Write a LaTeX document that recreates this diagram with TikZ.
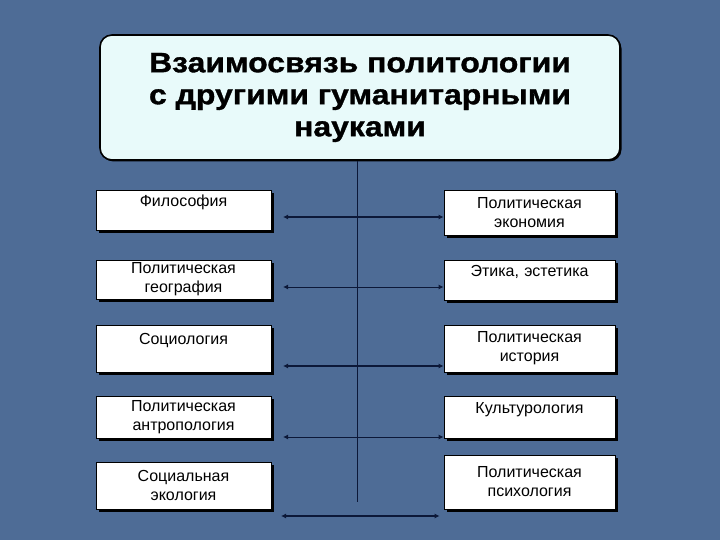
\documentclass[tikz,border=0pt]{standalone}
\usepackage{fontspec}
\setmainfont{Liberation Sans}
\newfontfamily\titlefont{Liberation Sans}[FakeStretch=1.14,BoldFeatures={FakeBold=1.2}]
\usepackage{tikz}
\usetikzlibrary{arrows.meta}
\usetikzlibrary{shadows}
\usepackage{xcolor}
\definecolor{slide}{RGB}{78,108,150}
\definecolor{titlefill}{RGB}{232,250,250}
\definecolor{navy}{RGB}{12,24,56}

\begin{document}
\begin{tikzpicture}[x=1pt,y=-1pt,
  box/.style={draw=black,line width=0.8pt,fill=white,align=center,inner sep=0pt,
    font=\fontsize{16}{19}\selectfont,
    drop shadow={shadow xshift=3pt,shadow yshift=-3pt,fill=black,opacity=1}},
  lbox/.style={box,minimum width=175pt,text width=170pt},
  rbox/.style={box,minimum width=171pt,text width=166pt},
  link/.style={draw=navy,{Latex[length=5pt,width=5pt]}-{Latex[length=5pt,width=5pt]}}]
  \fill[slide] (0,0) rectangle (720,540);
  \node[draw=black,line width=1.6pt,fill=titlefill,rounded corners=12pt,minimum width=520pt,minimum height=125pt,
        align=center,font=\titlefont\bfseries\fontsize{28}{32}\selectfont,
        drop shadow={shadow xshift=1.5pt,shadow yshift=-1.5pt,fill=black,opacity=1}]
        (title) at (360,97.5) {Взаимосвязь политологии\\с другими гуманитарными\\науками};

 \node[lbox,minimum height=40pt] (l1) at (183.5,210) {Философия\\~};
 \node[lbox,minimum height=39pt] (l2) at (183.5,279.5) {Политическая\\география};
 \node[lbox,minimum height=47pt] (l3) at (183.5,348.5) {Социология\\~};
 \node[lbox,minimum height=42pt] (l4) at (183.5,417) {Политическая\\антропология};
 \node[lbox,minimum height=47pt] (l5) at (183.5,485.5) {Социальная\\экология};

 \node[rbox,minimum height=45pt] (r1) at (529.5,212.5) {Политическая\\экономия};
 \node[rbox,minimum height=40pt] (r2) at (529.5,280) {Этика, эстетика\\~};
 \node[rbox,minimum height=47pt] (r3) at (529.5,348.5) {Политическая\\история};
 \node[rbox,minimum height=42pt] (r4) at (529.5,417) {Культурология\\~};
 \node[rbox,minimum height=54pt] (r5) at (529.5,482) {Политическая\\психология};

  \coordinate (v) at (357,502);
  \draw[navy,line width=0.8pt] (title.south -| v) -- (v);

  \coordinate (a1) at (283,217);
  \coordinate (a2) at (283,287);
  \coordinate (a3) at (283,366);
  \coordinate (a4) at (283,437);
  \coordinate (a5) at (281,516);
   \draw[link,line width=2pt] (a1) -- (a1 -| r1.west);
   \draw[link,line width=1pt] (a2) -- (a2 -| r2.west);
   \draw[link,line width=2pt] (a3) -- (a3 -| r3.west);
   \draw[link,line width=1pt] (a4) -- (a4 -| r4.west);
   \draw[link,line width=2pt] (a5) -- ([xshift=-4pt]a5 -| r5.west);
\end{tikzpicture}
\end{document}
